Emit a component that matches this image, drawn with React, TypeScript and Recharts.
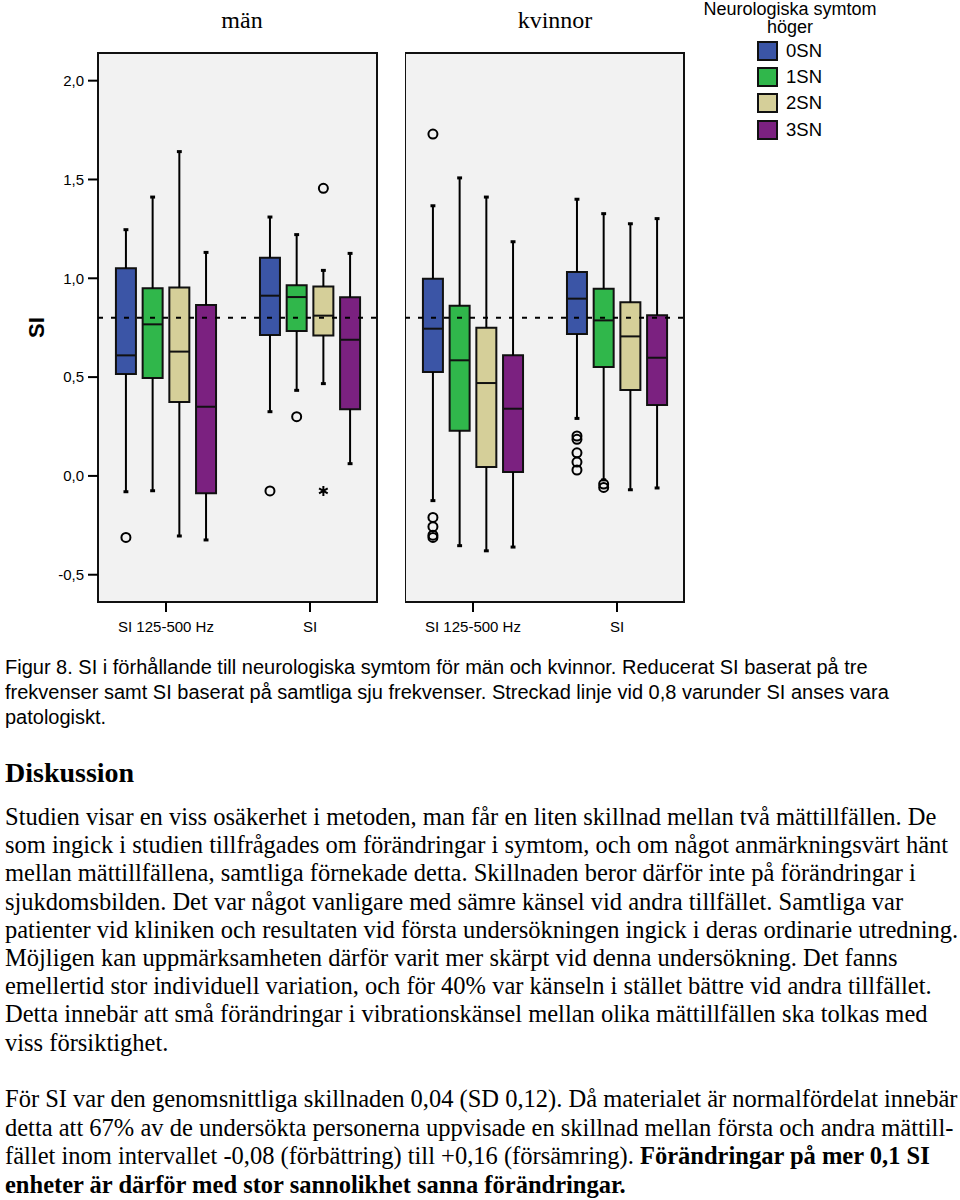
import React from 'react';
import {
  ComposedChart,
  ReferenceArea,
  ReferenceLine,
  Scatter,
  XAxis,
  YAxis,
} from 'recharts';

// box statistics per symptom group: [min, Q1, median, Q3, max]
const groupLabels = ['SI 125-500 Hz', 'SI'];
const seriesNames = ['0SN', '1SN', '2SN', '3SN'];
const seriesColors = ['#3b55a6', '#30b74b', '#d5cf99', '#7b2180'];

const menLowFreq = [
  [-0.08, 0.516, 0.61, 1.051, 1.246],
  [-0.075, 0.495, 0.767, 0.949, 1.411],
  [-0.304, 0.374, 0.629, 0.954, 1.641],
  [-0.324, -0.088, 0.35, 0.865, 1.131],
];
const menSI = [
  [0.325, 0.713, 0.912, 1.104, 1.31],
  [0.433, 0.733, 0.905, 0.965, 1.221],
  [0.467, 0.711, 0.811, 0.958, 1.04],
  [0.062, 0.337, 0.689, 0.904, 1.126],
];
const womenLowFreq = [
  [-0.125, 0.526, 0.745, 0.998, 1.367],
  [-0.353, 0.229, 0.585, 0.861, 1.508],
  [-0.379, 0.045, 0.47, 0.75, 1.411],
  [-0.36, 0.02, 0.34, 0.61, 1.185],
];
const womenSI = [
  [0.291, 0.718, 0.897, 1.032, 1.4],
  [-0.02, 0.551, 0.787, 0.947, 1.327],
  [-0.07, 0.435, 0.706, 0.879, 1.276],
  [-0.061, 0.359, 0.598, 0.813, 1.302],
];

// outliers: [group, series, value, kind]
const menOutliers: [number, number, number, string][] = [
  [0, 0, -0.311, 'o'],
  [1, 0, -0.076, 'o'],
  [1, 1, 0.3, 'o'],
  [1, 2, 1.455, 'o'],
  [1, 2, -0.076, '*'],
];
const womenOutliers: [number, number, number, string][] = [
  [0, 0, 1.73, 'o'],
  [0, 0, -0.21, 'o'],
  [0, 0, -0.257, 'o'],
  [0, 0, -0.3, 'o'],
  [0, 0, -0.311, 'o'],
  [1, 0, 0.202, 'o'],
  [1, 0, 0.185, 'o'],
  [1, 0, 0.117, 'o'],
  [1, 0, 0.07, 'o'],
  [1, 0, 0.03, 'o'],
  [1, 1, -0.041, 'o'],
  [1, 1, -0.058, 'o'],
];

const yTicks = [-0.5, 0, 0.5, 1.0, 1.5, 2.0];
const cutoff = 0.8;

const Y_DOMAIN: [number, number] = [-0.638, 2.14];
const X_DOMAIN: [number, number] = [-0.472, 1.465];
const STEP = 0.1854;
const BOX_HALF = 0.0694;
const CAP_HALF = 0.017;

const sans = "'Liberation Sans', Arial, sans-serif";
const serif = "'Liberation Serif', 'Times New Roman', serif";

const posOf = (group: number, s: number) => group + (s - 1.5) * STEP;

const OutlierShape = (props: any) => {
  const { cx, cy, payload } = props;
  if (payload.kind === '*') {
    const r = 5;
    const pts = [0, 60, 120].map((a) => {
      const rad = (a * Math.PI) / 180;
      return `M${cx - r * Math.sin(rad)},${cy - r * Math.cos(rad)}L${cx + r * Math.sin(rad)},${cy + r * Math.cos(rad)}`;
    });
    return <path d={pts.join('')} stroke="#000" strokeWidth={2} />;
  }
  return <circle cx={cx} cy={cy} r={4.5} fill="none" stroke="#000" strokeWidth={2} />;
};

function Panel({
  stats,
  outliers,
  withYAxis,
  width,
}: {
  stats: number[][][];
  outliers: [number, number, number, string][];
  withYAxis: boolean;
  width: number;
}) {
  const points = outliers.map(([g, s, v, kind]) => ({ x: posOf(g, s), y: v, kind }));

  const boxes: React.ReactNode[] = [];
  const lines: React.ReactNode[] = [];
  stats.forEach((group, g) =>
    group.forEach(([min, q1, med, q3, max], s) => {
      const x = posOf(g, s);
      const k = `${g}-${s}`;
      boxes.push(
        <ReferenceArea
          key={`box-${k}`}
          x1={x - BOX_HALF}
          x2={x + BOX_HALF}
          y1={q1}
          y2={q3}
          fill={seriesColors[s]}
          fillOpacity={1}
          stroke="#111"
          strokeWidth={2}
        />
      );
      lines.push(
        <ReferenceLine key={`wl-${k}`} segment={[{ x, y: min }, { x, y: q1 }]} stroke="#000" strokeWidth={2} />,
        <ReferenceLine key={`wh-${k}`} segment={[{ x, y: q3 }, { x, y: max }]} stroke="#000" strokeWidth={2} />,
        <ReferenceLine
          key={`cl-${k}`}
          segment={[{ x: x - CAP_HALF, y: min }, { x: x + CAP_HALF, y: min }]}
          stroke="#000"
          strokeWidth={3}
        />,
        <ReferenceLine
          key={`ch-${k}`}
          segment={[{ x: x - CAP_HALF, y: max }, { x: x + CAP_HALF, y: max }]}
          stroke="#000"
          strokeWidth={3}
        />,
        <ReferenceLine
          key={`md-${k}`}
          segment={[{ x: x - BOX_HALF, y: med }, { x: x + BOX_HALF, y: med }]}
          stroke="#111"
          strokeWidth={2}
        />
      );
    })
  );

  return (
    <ComposedChart
      width={width}
      height={640}
      data={points}
      margin={{ top: 53, right: 3, bottom: 0, left: 0 }}
    >
      <XAxis
        type="number"
        dataKey="x"
        domain={X_DOMAIN}
        allowDataOverflow
        ticks={[0, 1]}
        tickFormatter={(v) => groupLabels[v]}
        axisLine={false}
        tickLine={{ stroke: '#000', strokeWidth: 2 }}
        tickSize={10}
        tickMargin={9}
        height={38}
        tick={{ fill: '#000', fontSize: 15, fontFamily: sans }}
      />
      <YAxis
        type="number"
        dataKey="y"
        domain={Y_DOMAIN}
        allowDataOverflow
        hide={!withYAxis}
        width={98}
        ticks={yTicks}
        tickFormatter={(v) => v.toFixed(1).replace('.', ',')}
        axisLine={false}
        tickLine={{ stroke: '#000', strokeWidth: 2 }}
        tickSize={10}
        tickMargin={4}
        tick={{ fill: '#000', fontSize: 15, fontFamily: sans }}
        label={{
          value: 'SI',
          angle: -90,
          position: 'insideLeft',
          offset: 36,
          style: { fill: '#000', fontSize: 22, fontWeight: 'bold', fontFamily: sans, textAnchor: 'middle' },
        }}
      />
      <ReferenceArea
        x1={X_DOMAIN[0]}
        x2={X_DOMAIN[1]}
        y1={Y_DOMAIN[0]}
        y2={Y_DOMAIN[1]}
        fill="#f2f2f2"
        fillOpacity={1}
        stroke="#111"
        strokeWidth={2}
      />
      {boxes}
      {lines}
      <ReferenceLine y={cutoff} stroke="#000" strokeWidth={2} strokeDasharray="5 8" />
      <Scatter dataKey="y" shape={OutlierShape} isAnimationActive={false} />
    </ComposedChart>
  );
}

const captionLines = [
  'Figur 8. SI i förhållande till neurologiska symtom för män och kvinnor. Reducerat SI baserat på tre',
  'frekvenser samt SI baserat på samtliga sju frekvenser. Streckad linje vid 0,8 varunder SI anses vara',
  'patologiskt.',
];

const discussionLines = [
  'Studien visar en viss osäkerhet i metoden, man får en liten skillnad mellan två mättillfällen. De',
  'som ingick i studien tillfrågades om förändringar i symtom, och om något anmärkningsvärt hänt',
  'mellan mättillfällena, samtliga förnekade detta. Skillnaden beror därför inte på förändringar i',
  'sjukdomsbilden. Det var något vanligare med sämre känsel vid andra tillfället. Samtliga var',
  'patienter vid kliniken och resultaten vid första undersökningen ingick i deras ordinarie utredning.',
  'Möjligen kan uppmärksamheten därför varit mer skärpt vid denna undersökning. Det fanns',
  'emellertid stor individuell variation, och för 40% var känseln i stället bättre vid andra tillfället.',
  'Detta innebär att små förändringar i vibrationskänsel mellan olika mättillfällen ska tolkas med',
  'viss försiktighet.',
];

export default function App() {
  return (
    <div
      style={{
        position: 'absolute',
        left: 0,
        top: 0,
        width: 960,
        height: 1200,
        background: '#fff',
        color: '#000',
        overflow: 'hidden',
      }}
    >
      <div style={{ position: 'absolute', left: 0, top: 0 }}>
        <Panel stats={[menLowFreq, menSI]} outliers={menOutliers} withYAxis width={380} />
      </div>
      <div style={{ position: 'absolute', left: 405, top: 0 }}>
        <Panel stats={[womenLowFreq, womenSI]} outliers={womenOutliers} withYAxis={false} width={282} />
      </div>

      <div style={{ position: 'absolute', left: 142, top: 7, width: 200, textAlign: 'center', fontFamily: serif, fontSize: 24 }}>
        män
      </div>
      <div style={{ position: 'absolute', left: 455, top: 7, width: 200, textAlign: 'center', fontFamily: serif, fontSize: 24 }}>
        kvinnor
      </div>

      {/* legend */}
      <div
        style={{
          position: 'absolute',
          left: 680,
          top: 0,
          width: 220,
          textAlign: 'center',
          fontFamily: sans,
          fontSize: 18,
          lineHeight: '18px',
        }}
      >
        Neurologiska symtom
        <br />
        höger
      </div>
      {seriesNames.map((name, i) => (
        <div
          key={name}
          style={{ position: 'absolute', left: 757, top: 41 + i * 26.2, height: 20, display: 'flex', alignItems: 'center' }}
        >
          <div
            style={{
              width: 17,
              height: 16,
              background: seriesColors[i],
              border: '2px solid #111',
            }}
          />
          <span style={{ marginLeft: 8, fontFamily: sans, fontSize: 18.5 }}>{name}</span>
        </div>
      ))}

      {/* text below the figure */}
      <div style={{ position: 'absolute', left: 5, top: 655, fontFamily: sans, fontSize: 20, lineHeight: '25px', whiteSpace: 'nowrap' }}>
        {captionLines.map((l) => (
          <div key={l}>{l}</div>
        ))}
      </div>
      <div style={{ position: 'absolute', left: 5, top: 756, fontFamily: serif, fontSize: 28, fontWeight: 'bold', lineHeight: '34px' }}>
        Diskussion
      </div>
      <div style={{ position: 'absolute', left: 5, top: 803, fontFamily: serif, fontSize: 24.5, lineHeight: '28.2px', whiteSpace: 'nowrap' }}>
        {discussionLines.map((l) => (
          <div key={l}>{l}</div>
        ))}
      </div>
      <div style={{ position: 'absolute', left: 5, top: 1085, fontFamily: serif, fontSize: 24.5, lineHeight: '28.6px', whiteSpace: 'nowrap' }}>
        <div>För SI var den genomsnittliga skillnaden 0,04 (SD 0,12). Då materialet är normalfördelat innebär</div>
        <div>detta att 67% av de undersökta personerna uppvisade en skillnad mellan första och andra mättill-</div>
        <div>
          fället inom intervallet -0,08 (förbättring) till +0,16 (försämring). <b>Förändringar på mer 0,1 SI</b>
        </div>
        <div>
          <b>enheter är därför med stor sannolikhet sanna förändringar.</b>
        </div>
      </div>
    </div>
  );
}
